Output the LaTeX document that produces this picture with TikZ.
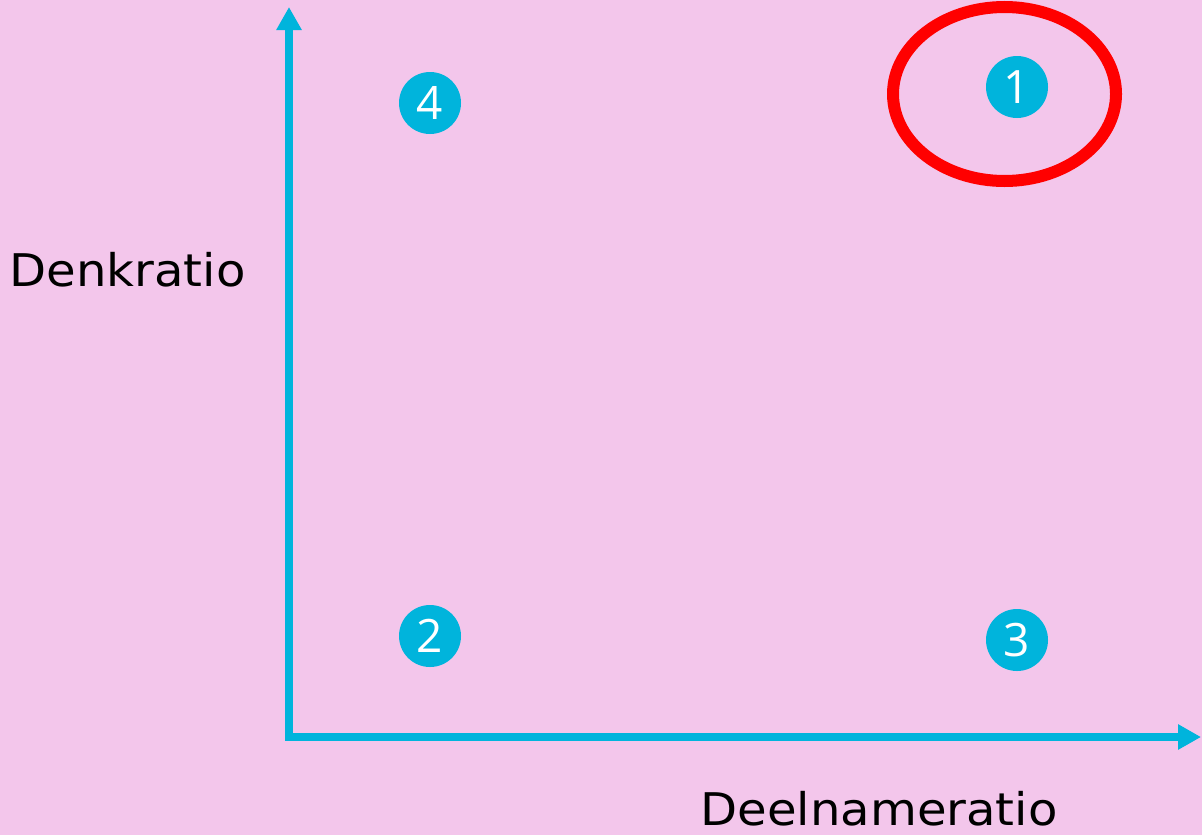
\documentclass[tikz,border=0pt]{standalone}
\usepackage{fontspec}
\setmainfont{DejaVu Sans}
\newfontfamily\labelfont[FakeStretch=1.07]{DejaVu Sans}
\newfontfamily\digitfont{Open Sans}
\usetikzlibrary{arrows.meta,shapes.geometric}
\definecolor{bgpink}{RGB}{243,198,235}
\definecolor{axcyan}{RGB}{0,180,220}
\definecolor{ringred}{RGB}{255,0,0}
\tikzset{
  axis/.style={draw=axcyan, line width=4pt, -{Triangle[length=11.5pt,width=12pt]}},
  badge/.style={circle, fill=axcyan, text=white, minimum size=31pt, inner sep=0pt, font=\digitfont\fontsize{23pt}{23pt}\selectfont},
  label/.style={inner sep=0pt, font=\labelfont\fontsize{22.5pt}{22.5pt}\selectfont, text=black},
  ring/.style={ellipse, draw=ringred, line width=6pt, minimum width=111.5pt, minimum height=87pt, inner sep=0pt}
}
\begin{document}
\begin{tikzpicture}[x=0.5pt,y=-0.5pt]
\fill[bgpink] (0,0) rectangle (1202,835);
\useasboundingbox (0,0) rectangle (1202,835);
\coordinate (O) at (289,737);
\coordinate (ytop) at (289,7);
\coordinate (xo) at (285,737);
\coordinate (xend) at (1201,737);
\draw[axis] (O) -- (ytop);
\draw[axis] (xo) -- (xend);
\node[ring] (r1) at (1004.5,94) {};
\node[badge] (b1) at (1017,87) {1};
\node[badge] (b4) at (430,103) {4};
\node[badge] (b2) at (430,636) {2};
\node[badge] (b3) at (1017,640) {3};
\node[label, anchor=base west] (yl) at (9,286) {Denkratio};
\node[label, anchor=base west] (xl) at (700,825) {Deelnameratio};
\end{tikzpicture}
\end{document}
